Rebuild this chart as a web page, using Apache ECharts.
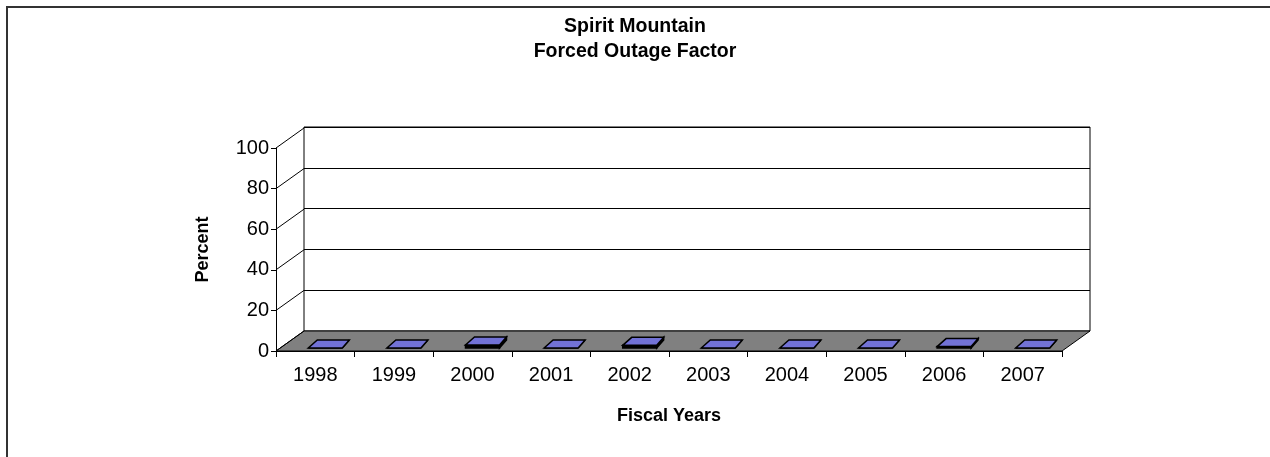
<!DOCTYPE html>
<html>
<head>
<meta charset="utf-8">
<script src="https://cdn.jsdelivr.net/npm/echarts@6/dist/echarts.min.js"></script>
<style>
  html, body { margin: 0; padding: 0; background: #fff; }
  #frame { position: absolute; left: 6px; top: 6px; width: 1270px; height: 470px; border: 2px solid #333; box-sizing: border-box; }
  #chart { position: absolute; left: 0; top: 0; width: 1270px; height: 457px; }
</style>
</head>
<body>
<div id="frame"></div>
<div id="chart"></div>
<script>
var years = ['1998', '1999', '2000', '2001', '2002', '2003', '2004', '2005', '2006', '2007'];
var outageFactor = [0, 0, 1.5, 0, 1.3, 0, 0, 0, 0.7, 0];
var yTicks = [0, 20, 40, 60, 80, 100];

// depth of the pseudo 3d box (back wall offset)
var depthX = 28, depthY = 20;
var font = '"Liberation Sans", Arial, sans-serif';

var chart = echarts.init(document.getElementById('chart'));

var option = {
  animation: false,
  textStyle: { fontFamily: font },
  title: {
    text: 'Spirit Mountain\nForced Outage Factor',
    left: 'center',
    top: 9,
    textStyle: { fontSize: 19.5, fontWeight: 'bold', color: '#000', lineHeight: 25, fontFamily: font }
  },
  grid: [
    { // back wall
      left: 304, width: 786, top: 127, height: 204,
      show: true, backgroundColor: '#fff', borderColor: '#000', borderWidth: 1
    },
    { // front axes
      left: 276, width: 786, top: 148, height: 203
    }
  ],
  xAxis: [
    {
      gridIndex: 0, type: 'category', data: years,
      axisLine: { show: false }, axisTick: { show: false }, axisLabel: { show: false }
    },
    {
      gridIndex: 1, type: 'category', data: years,
      name: 'Fiscal Years', nameLocation: 'middle', nameGap: 56,
      nameTextStyle: { fontSize: 18, fontWeight: 'bold', color: '#000', fontFamily: font },
      axisLine: { lineStyle: { color: '#000', width: 1 } },
      axisTick: { show: true, length: 6, lineStyle: { color: '#000' } },
      axisLabel: { fontSize: 20, color: '#000', margin: 14, fontFamily: font }
    }
  ],
  yAxis: [
    {
      gridIndex: 0, type: 'value', min: 0, max: 100, interval: 20,
      axisLine: { show: false }, axisTick: { show: false }, axisLabel: { show: false },
      splitLine: { show: true, lineStyle: { color: '#000', width: 1 } }
    },
    {
      gridIndex: 1, type: 'value', min: 0, max: 100, interval: 20,
      name: 'Percent', nameLocation: 'middle', nameGap: 64, nameRotate: 90,
      nameTextStyle: { fontSize: 18, fontWeight: 'bold', color: '#000', fontFamily: font },
      axisLine: { show: true, lineStyle: { color: '#000', width: 1 } },
      axisTick: { show: true, length: 5, lineStyle: { color: '#000' } },
      axisLabel: { fontSize: 20, color: '#000', margin: 7, fontFamily: font },
      splitLine: { show: false }
    }
  ],
  series: [
    { // floor and side-wall diagonals
      type: 'custom',
      xAxisIndex: 1, yAxisIndex: 1,
      data: [[0, 0]],
      z: 1,
      silent: true,
      renderItem: function (params, api) {
        var cs = params.coordSys;
        var bottom = cs.y + cs.height;
        var children = [{
          type: 'polygon',
          shape: { points: [
            [cs.x, bottom], [cs.x + cs.width, bottom],
            [cs.x + cs.width + depthX, bottom - depthY], [cs.x + depthX, bottom - depthY]
          ] },
          style: { fill: '#808080', stroke: '#000', lineWidth: 1 }
        }];
        yTicks.forEach(function (t) {
          var p = api.coord([0, t]);
          children.push({
            type: 'line',
            shape: { x1: cs.x, y1: p[1], x2: cs.x + depthX, y2: p[1] - depthY },
            style: { stroke: '#000', lineWidth: 1 }
          });
        });
        return { type: 'group', children: children };
      }
    },
    { // flat 3d bars
      name: 'Forced Outage Factor',
      type: 'custom',
      xAxisIndex: 1, yAxisIndex: 1,
      data: outageFactor.map(function (v, i) { return [i, v]; }),
      z: 3,
      renderItem: function (params, api) {
        var base = api.coord([api.value(0), 0]);
        var top = api.coord([api.value(0), api.value(1)]);
        var h = Math.max(base[1] - top[1], 0);
        var cx = base[0];
        var fy = base[1] - 3;
        var fl = cx - 7, fr = cx + 27, bl = cx + 2, br = cx + 34, d = 8;
        var sideStyle = { fill: '#000', stroke: '#000', lineWidth: 1.5 };
        return {
          type: 'group',
          children: [
            { type: 'polygon', shape: { points: [[fl, fy], [fr, fy], [fr, fy - h], [fl, fy - h]] }, style: sideStyle },
            { type: 'polygon', shape: { points: [[fr, fy], [br, fy - d], [br, fy - d - h], [fr, fy - h]] }, style: sideStyle },
            { type: 'polygon', shape: { points: [[fl, fy - h], [fr, fy - h], [br, fy - d - h], [bl, fy - d - h]] },
              style: { fill: '#7272d6', stroke: '#000', lineWidth: 1.5 } }
          ]
        };
      }
    }
  ]
};

chart.setOption(option);
</script>
</body>
</html>
